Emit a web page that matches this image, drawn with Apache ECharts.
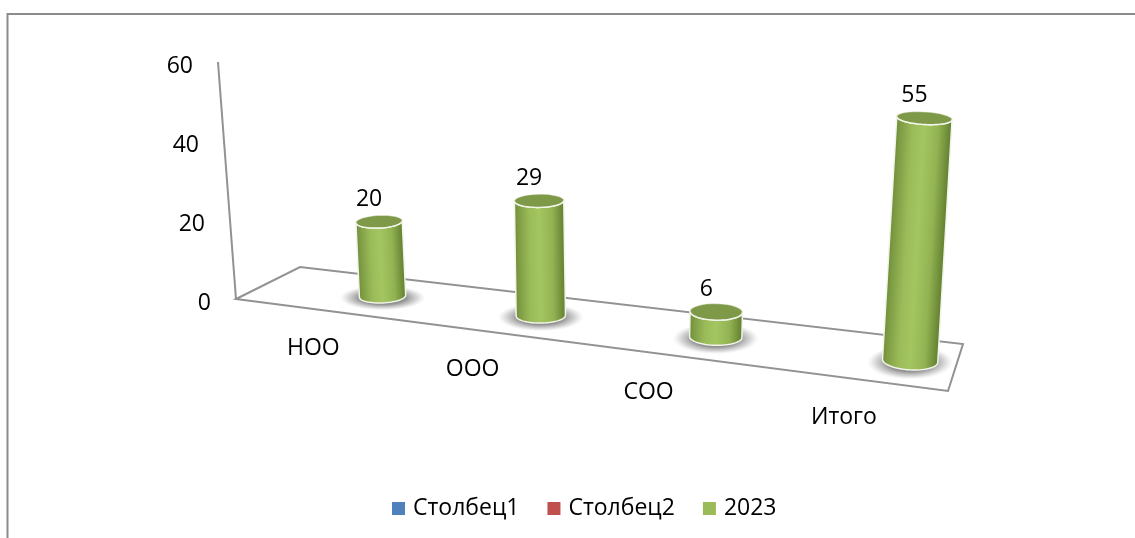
<!DOCTYPE html>
<html><head><meta charset="utf-8">
<style>html,body{margin:0;padding:0;background:#fff}#c{width:1135px;height:538px}</style>
<script src="https://cdn.jsdelivr.net/npm/echarts@6/dist/echarts.min.js"></script>
</head><body><div id="c"></div>
<script>
const categories = ['НОО', 'ООО', 'СОО', 'Итого'];
const values2023 = [20, 29, 6, 55];
const column1 = [];
const column2 = [];
const yTicks = [0, 20, 40, 60];
const seriesNames = ['Столбец1', 'Столбец2', '2023'];

const FONT = '"Open Sans", sans-serif';
const FS = 23;
const GRID = {left: 236, top: 62, width: 712, height: 237};
// floor quad (front-left, front-right, back-right, back-left)
const Q = [[236,299],[948,391],[963,344],[300,267]];
const floor = (function () {
  const [p0,p1,p2,p3] = Q;
  const dx1=p1[0]-p2[0], dx2=p3[0]-p2[0], sx=p0[0]-p1[0]+p2[0]-p3[0];
  const dy1=p1[1]-p2[1], dy2=p3[1]-p2[1], sy=p0[1]-p1[1]+p2[1]-p3[1];
  const den=dx1*dy2-dx2*dy1;
  const g=(sx*dy2-dx2*sy)/den, h=(dx1*sy-sx*dy1)/den;
  const a=p1[0]-p0[0]+g*p1[0], b=p3[0]-p0[0]+h*p3[0], c=p0[0];
  const d=p1[1]-p0[1]+g*p1[1], e=p3[1]-p0[1]+h*p3[1], f=p0[1];
  return (u,v)=>{const w=g*u+h*v+1;return [(a*u+b*v+c)/w,(d*u+e*v+f)/w];};
})();
const lean = x => (x-616)*0.0002;
function arc(rx,ry,cy,from,to){
  const pts=[];
  for(let i=0;i<=32;i++){const t=from+(to-from)*i/32;pts.push([rx*Math.cos(t),cy+ry*Math.sin(t)]);}
  return pts;
}
const bodyFill={type:'linear',x:0,y:0,x2:1,y2:0,colorStops:[
  {offset:0,color:'#6d8c38'},{offset:.1,color:'#7f9e45'},{offset:.3,color:'#9bbb59'},{offset:.5,color:'#a3c661'},
  {offset:.75,color:'#93b352'},{offset:.92,color:'#6f8e3a'},{offset:1,color:'#5f7d2f'}]};
const shadowFill={type:'radial',x:.5,y:.5,r:.5,colorStops:[
  {offset:0,color:'rgba(120,120,120,.95)'},{offset:.55,color:'rgba(130,130,130,.85)'},
  {offset:.8,color:'rgba(165,165,165,.45)'},{offset:1,color:'rgba(200,200,200,0)'}]};

function renderBar(params,api){
  const i=api.value(0), v=api.value(1);
  const base=api.coord([i,0]), top=api.coord([i,v]);
  const u=(base[0]-GRID.left)/GRID.width+0.07;
  const [bx,by]=floor(u,0.5);
  const h=(base[1]-top[1])*(3.55+0.92*u)/3.95;
  const l=lean(bx);
  const rx=22+6*u, ry=6+3.2*u, ryT=ry*(1-0.0015*Math.max(0,h-40));
  const tx=bx+l*h, ty=by-h;
  // lower arc of the base, then the lower arc of the top, right to left
  const pts=arc(rx,ry,0,Math.PI,0).concat(arc(rx,ryT,-h,0,Math.PI));
  return {type:'group',children:[
    {type:'circle',x:bx,y:by+1.5,scaleY:(1.9*ry)/43,shape:{cx:0,cy:0,r:43},style:{fill:shadowFill},silent:true},
    {type:'group',x:bx,y:by,rotation:-Math.atan(l),children:[
      {type:'polygon',shape:{points:pts},style:{fill:bodyFill,stroke:'#f1f4e8',lineWidth:1.5,lineJoin:'round'}},
      {type:'polygon',shape:{points:arc(rx,ryT,-h,0,Math.PI*2)},style:{fill:'#7e9a48',stroke:'rgba(240,244,232,.45)',lineWidth:1}},
      {type:'polyline',shape:{points:arc(rx,ryT,-h,0,Math.PI)},style:{fill:null,stroke:'#f1f4e8',lineWidth:1.5}}
    ]},
    {type:'text',style:{text:String(v),x:tx-10,y:ty-22.5,align:'center',verticalAlign:'middle',fontFamily:FONT,fontSize:FS,fill:'#000'}},
    {type:'text',style:{text:categories[i],x:bx-70+4*u,y:by+51.5+5.5*u,align:'center',verticalAlign:'middle',fontFamily:FONT,fontSize:FS,fill:'#000'}}
  ]};
}
function renderFrame(params,api){
  const t=api.value(0);
  const p=api.coord([0,t]), o=api.coord([0,0]);
  const hh=o[1]-p[1];
  const ax=Q[0][0]+lean(Q[0][0])*hh, ay=Q[0][1]-hh;
  const kids=[{type:'text',style:{text:String(t),x:ax-25,y:ay+4.5,align:'right',verticalAlign:'middle',fontFamily:FONT,fontSize:FS,fill:'#000'}}];
  if(params.dataIndex===yTicks.length-1){
    const ln={stroke:'#929292',lineWidth:2,fill:null};
    kids.push({type:'polygon',shape:{points:Q},style:ln});
    kids.push({type:'line',shape:{x1:Q[0][0],y1:Q[0][1],x2:ax,y2:ay},style:ln});
  }
  return {type:'group',children:kids};
}
const chart=echarts.init(document.getElementById('c'),null,{renderer:'canvas'});
const edge={stroke:'#8c8c8c',lineWidth:2};
chart.setOption({
  animation:false,
  backgroundColor:'#fff',
  grid:{left:GRID.left,top:GRID.top,width:GRID.width,height:GRID.height},
  xAxis:{type:'category',data:categories,show:false},
  yAxis:{type:'value',min:0,max:60,interval:20,show:false},
  legend:{data:seriesNames,left:392,top:497,padding:0,icon:'rect',itemWidth:13,itemHeight:13,itemGap:28,
    textStyle:{fontFamily:FONT,fontSize:FS,color:'#000',padding:[0,0,0,3]}},
  graphic:[
    {type:'line',silent:true,shape:{x1:7,y1:14,x2:1135,y2:14},style:edge},
    {type:'line',silent:true,shape:{x1:7.5,y1:13,x2:7.5,y2:538},style:edge}
  ],
  series:[
    {type:'custom',name:'frame',silent:true,clip:false,renderItem:renderFrame,data:yTicks.map(t=>[t]),encode:{y:0}},
    {type:'custom',name:seriesNames[0],renderItem:renderBar,clip:false,itemStyle:{color:'#4f81bd'},data:column1},
    {type:'custom',name:seriesNames[1],renderItem:renderBar,clip:false,itemStyle:{color:'#c0504d'},data:column2},
    {type:'custom',name:seriesNames[2],renderItem:renderBar,clip:false,itemStyle:{color:'#9bbb59'},
      data:values2023.map((v,i)=>[i,v]),encode:{x:0,y:1}}
  ]
});
</script></body></html>
